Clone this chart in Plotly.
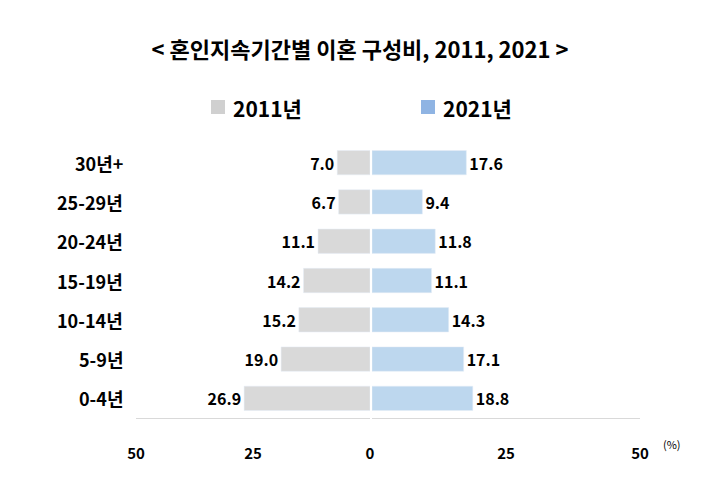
import plotly.graph_objects as go

categories = ["0-4년", "5-9년", "10-14년", "15-19년", "20-24년", "25-29년", "30년+"]
values_2011 = [26.9, 19.0, 15.2, 14.2, 11.1, 6.7, 7.0]
values_2021 = [18.8, 17.1, 14.3, 11.1, 11.8, 9.4, 17.6]
tick_vals_left = [0, 25, 50]
tick_vals_right = [25, 50]

W, H = 703, 484
FONT = "Noto Sans CJK KR"
y_dom = [1 - 410 / H, 1 - 135 / H]

fig = go.Figure()
fig.add_trace(go.Bar(
    y=categories, x=values_2011, orientation="h", xaxis="x", yaxis="y",
    marker_color="#d9d9d9", text=[f"{v:.1f}" for v in values_2011],
    textposition="outside", textfont=dict(size=16, color="black", family=FONT, weight="bold"),
    cliponaxis=False, showlegend=False,
))
fig.add_trace(go.Bar(
    y=categories, x=values_2021, orientation="h", xaxis="x2", yaxis="y2",
    marker_color="#bdd7ee", text=[f"{v:.1f}" for v in values_2021],
    textposition="outside", textfont=dict(size=16, color="black", family=FONT, weight="bold"),
    cliponaxis=False, showlegend=False,
))

axis_common = dict(showgrid=False, automargin=False,
                   zeroline=False, showline=True, linecolor="#d9d9d9", linewidth=1,
                   ticks="", ticklabelstandoff=22,
                   tickfont=dict(size=15, family=FONT, weight="bold", color="black"))
fig.update_layout(
    width=W, height=H, margin=dict(l=0, r=0, t=0, b=0, autoexpand=False),
    paper_bgcolor="white", plot_bgcolor="white", bargap=0.38,
    font=dict(family=FONT, color="black"),
    xaxis=dict(domain=[128 / W, 362 / W], range=[50, 0], anchor="y",
               tickvals=tick_vals_left, ticktext=[str(t) for t in tick_vals_left], **axis_common),
    xaxis2=dict(domain=[364 / W, 632 / W], range=[0, 50], anchor="y2",
                tickvals=tick_vals_right, ticktext=[str(t) for t in tick_vals_right], **axis_common),
    yaxis=dict(domain=y_dom, anchor="x", showgrid=False, zeroline=False, showline=False,
               showticklabels=False, automargin=False),
    yaxis2=dict(domain=y_dom, anchor="x2", showticklabels=False, showgrid=False,
                zeroline=False, showline=False, matches="y", automargin=False),
    title=dict(text="< 혼인지속기간별 이혼 구성비, 2011, 2021 >", x=352 / W, xanchor="center",
               y=1 - 42 / H, yanchor="middle",
               font=dict(size=22, family=FONT, weight="bold", color="black")),
)

# category labels
for cat in categories:
    fig.add_annotation(x=117 / W, y=cat, xref="paper", yref="y", text=cat,
                       showarrow=False, xanchor="right", yanchor="middle",
                       font=dict(size=18, family=FONT, weight="bold", color="black"))

# legend drawn manually
legend_items = [("2011년", "#d0d0d0", 203), ("2021년", "#8fb4e3", 413)]
for label, color, px in legend_items:
    fig.add_shape(type="rect", xref="paper", yref="paper",
                  x0=px / W, x1=(px + 14) / W, y0=1 - 106 / H, y1=1 - 92 / H,
                  fillcolor=color, line_width=0)
    fig.add_annotation(x=(px + 20) / W, y=1 - 100 / H, xref="paper", yref="paper",
                       text=label, showarrow=False, xanchor="left", yanchor="middle",
                       font=dict(size=21, family=FONT, weight="bold", color="black"))

fig.add_annotation(x=675 / W, y=1 - 446 / H, xref="paper", yref="paper", text="(%)",
                   showarrow=False, font=dict(size=11, family=FONT, color="black"))

fig.write_html("out.html")
